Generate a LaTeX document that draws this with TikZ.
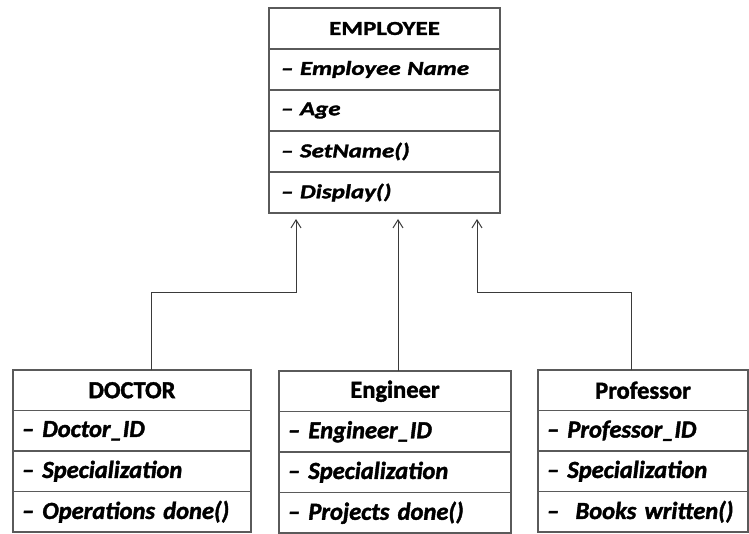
\documentclass[tikz,border=0pt]{standalone}
\usepackage{fontspec}
\usepackage{tikz}
\usetikzlibrary{arrows.meta,positioning}
\setmainfont{Carlito}[BoldFeatures={FakeBold=1.6}, BoldItalicFeatures={FakeBold=1.6}]
\newfontfamily\widecarlito{Carlito}[Ligatures=TeX, FakeStretch=1.26,
  BoldFeatures={FakeBold=1.6}, BoldItalicFeatures={FakeBold=1.6}]
\definecolor{boxgray}{HTML}{5A5A5A}
\definecolor{linegray}{HTML}{3A3A3A}
\newcommand{\baseclassfont}{\widecarlito\fontsize{19.8}{23}\selectfont}
\newcommand{\subclassfont}{\fontsize{24.5}{28}\selectfont}
\tikzset{
  cell/.style={
    rectangle,
    draw=boxgray,
    line width=1.3pt,
    outer sep=0pt,
    inner ysep=0pt
  },
  basehead/.style={cell, minimum height=41pt, inner xsep=12pt, text width=207pt,
    align=center, font=\baseclassfont\bfseries},
  baserow/.style={cell, minimum height=41pt, inner xsep=12pt, text width=207pt,
    align=left, font=\baseclassfont\bfseries\itshape},
  subhead/.style={cell, minimum height=40.5pt, inner xsep=9pt, text width=#1,
    align=center, font=\subclassfont\bfseries},
  subrow/.style={cell, minimum height=40.5pt, inner xsep=9pt, text width=#1,
    align=left, font=\subclassfont\bfseries\itshape},
  inherit/.style={-{Straight Barb[length=8pt,width=10pt]}, line width=1pt,
    draw=linegray, shorten >=6pt}
}
\begin{document}
\begin{tikzpicture}[x=1pt, y=-1pt]
  \useasboundingbox (0,0) rectangle (749,534);

  % base class
  \node[basehead, anchor=north west] (emp) at (269,8) {EMPLOYEE};
  \node[baserow, below=0pt of emp] (emp1) {– Employee Name};
  \node[baserow, below=0pt of emp1] (emp2) {– Age};
  \node[baserow, below=0pt of emp2] (emp3) {– SetName()};
  \node[baserow, below=0pt of emp3] (emp4) {– Display()};

  % derived classes
  \node[subhead=220pt, anchor=north west] (doc) at (13,370) {DOCTOR};
  \node[subrow=220pt, below=0pt of doc] (doc1) {– Doctor\_ID};
  \node[subrow=220pt, below=0pt of doc1] (doc2) {– Specialization};
  \node[subrow=220pt, below=0pt of doc2] (doc3) {– Operations done()};

  \node[subhead=214pt, anchor=north west] (eng) at (279,371) {Engineer};
  \node[subrow=214pt, below=0pt of eng] (eng1) {– Engineer\_ID};
  \node[subrow=214pt, below=0pt of eng1] (eng2) {– Specialization};
  \node[subrow=214pt, below=0pt of eng2] (eng3) {– Projects done()};

  \node[subhead=192pt, anchor=north west] (prof) at (538,370) {Professor};
  \node[subrow=192pt, below=0pt of prof] (prof1) {– Professor\_ID};
  \node[subrow=192pt, below=0pt of prof1] (prof2) {– Specialization};
  \node[subrow=192pt, below=0pt of prof2] (prof3) {–~~Books written()};

  % inheritance links
  \coordinate (kneeL) at (151,293);
  \coordinate (kneeR) at (631,293);
  \coordinate (tipL) at (296,0);
  \coordinate (tipM) at (398,0);
  \coordinate (tipR) at (477,0);
  \draw[inherit] (doc.north -| kneeL) -- (kneeL) -| (emp4.south -| tipL);
  \draw[inherit] (eng.north -| tipM) -- (emp4.south -| tipM);
  \draw[inherit] (prof.north -| kneeR) -- (kneeR) -| (emp4.south -| tipR);
\end{tikzpicture}
\end{document}
